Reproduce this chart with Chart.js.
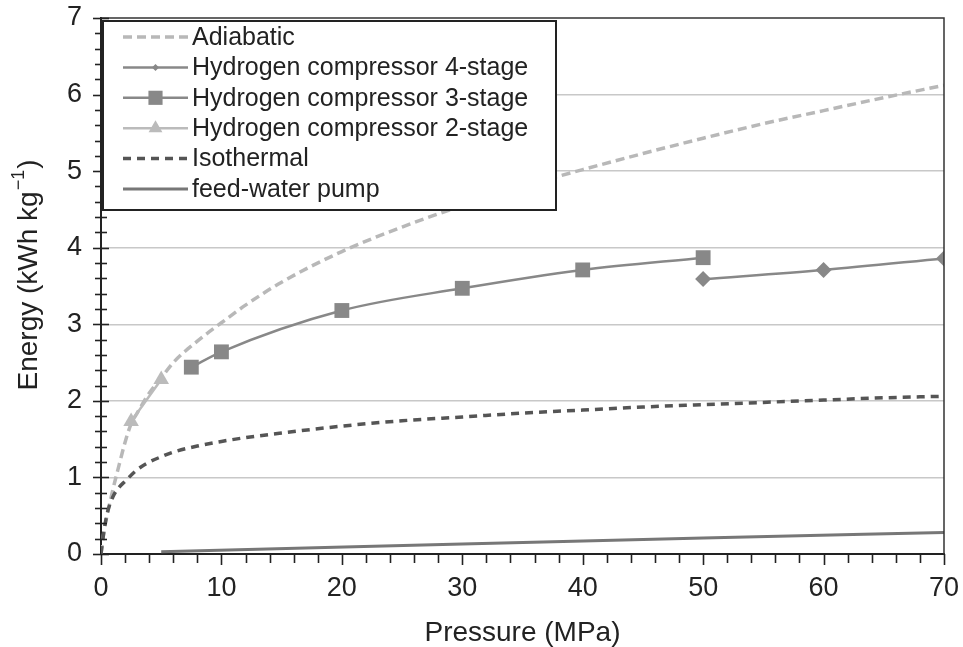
<!DOCTYPE html>
<html><head><meta charset="utf-8">
<script src="https://cdn.jsdelivr.net/npm/chart.js@4/dist/chart.umd.min.js"></script>
<style>html,body{margin:0;padding:0;background:#fff}#wrap{width:963px;height:647px}</style>
</head><body><div id="wrap"><canvas id="c" width="963" height="647"></canvas></div>
<script>
const seriesNames = ['Adiabatic','Hydrogen compressor 4-stage','Hydrogen compressor 3-stage','Hydrogen compressor 2-stage','Isothermal','feed-water pump'];
const adiabaticP = [0,0.25,0.5,1,1.5,2,2.5,3,4,5,6,8,10,12,15,20,25,30,35,40,45,50,55,60,65,70];
const adiabaticE = [0,0.3,0.5,0.85,1.16,1.46,1.7,1.84,2.1,2.3,2.5,2.78,3.02,3.25,3.55,3.95,4.27,4.55,4.8,5.02,5.23,5.43,5.62,5.79,5.96,6.12];
const stage4P = [50,60,70];
const stage4E = [3.59,3.71,3.86];
const stage3P = [7.5,10,20,30,40,50];
const stage3E = [2.44,2.64,3.18,3.47,3.71,3.87];
const stage2P = [2.5,5];
const stage2E = [1.73,2.28];
const isoP = [0,0.25,0.5,1,1.5,2,3,4,5,6,8,10,12,15,20,25,30,35,40,45,50,55,60,65,70];
const isoE = [0,0.3,0.52,0.75,0.87,0.95,1.1,1.2,1.27,1.33,1.41,1.47,1.52,1.58,1.67,1.74,1.79,1.84,1.88,1.92,1.95,1.98,2.01,2.04,2.06];
const pumpP = [5,30,50,70];
const pumpE = [0.03,0.13,0.21,0.28];
const xTicks = [0,10,20,30,40,50,60,70];
const yTicks = [0,1,2,3,4,5,6,7];
const yTitleMain = 'Energy (kWh kg';
const yTitleSup = '\u22121';
const yTitleEnd = ')';

const FAM = '"Liberation Sans", Arial, Helvetica, sans-serif';
const pts = (xs, ys) => xs.map((x, i) => ({x, y: ys[i]}));

const styles = [
  {c:'#b8b8b8', w:3.5, dash:[9,5], ps:false, lm:0},
  {c:'#888888', w:2.5, dash:[], ps:'rectRot', r:8, lm:3.5},
  {c:'#888888', w:2.5, dash:[], ps:'rect', r:10.5, lm:10},
  {c:'#bbbbbb', w:2.5, dash:[], ps:'triangle', r:9, lm:8},
  {c:'#555555', w:3.5, dash:[8,6], ps:false, lm:0},
  {c:'#777777', w:3, dash:[], ps:false, lm:0}
];
const dataSets = [pts(adiabaticP, adiabaticE), pts(stage4P, stage4E), pts(stage3P, stage3E), pts(stage2P, stage2E), pts(isoP, isoE), pts(pumpP, pumpE)];

const datasets = dataSets.map((d, i) => {
  const s = styles[i];
  return {
    label: seriesNames[i], data: d,
    borderColor: s.c, backgroundColor: s.c, borderWidth: s.w, borderDash: s.dash,
    pointStyle: s.ps || 'circle', pointRadius: s.ps ? s.r : 0, pointBorderWidth: 0,
    pointBackgroundColor: s.c, cubicInterpolationMode: 'monotone', fill: false,
    legendMarker: s.lm, order: 6 - i
  };
});

function drawMarker(ctx, style, x, y, r) {
  ctx.beginPath();
  if (style === 'rect') { const h = r * Math.SQRT1_2; ctx.rect(x - h, y - h, 2 * h, 2 * h); }
  else if (style === 'rectRot') { ctx.moveTo(x, y - r); ctx.lineTo(x + r, y); ctx.lineTo(x, y + r); ctx.lineTo(x - r, y); ctx.closePath(); }
  else if (style === 'triangle') { ctx.moveTo(x, y - r); ctx.lineTo(x + r * 0.866, y + r * 0.5); ctx.lineTo(x - r * 0.866, y + r * 0.5); ctx.closePath(); }
  ctx.fill();
}

const framePlugin = {
  id: 'frame',
  afterDatasetsDraw(chart) {
    const ctx = chart.ctx, a = chart.chartArea;
    const xs = chart.scales.x, ys = chart.scales.y;
    ctx.save();
    ctx.strokeStyle = '#333'; ctx.lineWidth = 1.5;
    ctx.beginPath(); ctx.moveTo(a.left, a.top); ctx.lineTo(a.right, a.top); ctx.lineTo(a.right, a.bottom); ctx.stroke();
    ctx.strokeStyle = '#222'; ctx.lineWidth = 1.6;
    for (let k = 0; k <= 35; k++) {
      const v = k * 0.2; const py = Math.round(ys.getPixelForValue(v)) + 0.5;
      const major = k % 5 === 0; const L = major ? 8 : 6;
      ctx.beginPath(); ctx.moveTo(a.left - L, py); ctx.lineTo(a.left + L, py); ctx.stroke();
    }
    for (let k = 0; k <= 35; k++) {
      const v = k * 2; const px = Math.round(xs.getPixelForValue(v)) + 0.5;
      const major = k % 5 === 0; const L = major ? 11 : 9;
      ctx.beginPath(); ctx.moveTo(px, a.bottom); ctx.lineTo(px, a.bottom + L); ctx.stroke();
    }
    // legend box
    const bx = a.left + 2, by = a.top + 3, bw = 453, bh = 189;
    ctx.fillStyle = '#fff'; ctx.fillRect(bx, by, bw, bh);
    ctx.strokeStyle = '#222'; ctx.lineWidth = 2; ctx.strokeRect(bx, by, bw, bh);
    chart.data.datasets.forEach((ds, i) => {
      const y = by + 16 + i * 30.4;
      const x0 = bx + 20, x1 = bx + 85;
      ctx.beginPath(); ctx.setLineDash(ds.borderDash || []);
      ctx.lineWidth = ds.borderWidth; ctx.strokeStyle = ds.borderColor;
      ctx.moveTo(x0, y); ctx.lineTo(x1, y); ctx.stroke(); ctx.setLineDash([]);
      if (ds.legendMarker) { ctx.fillStyle = ds.borderColor; drawMarker(ctx, ds.pointStyle, (x0 + x1) / 2, y, ds.legendMarker); }
      ctx.fillStyle = '#222'; ctx.font = '25px ' + FAM; ctx.textBaseline = 'middle'; ctx.textAlign = 'left';
      ctx.fillText(ds.label, bx + 89, y + 1);
    });
    // y-axis title with superscript
    const cy = (a.top + a.bottom) / 2 - 11;
    ctx.translate(27, cy); ctx.rotate(-Math.PI / 2);
    const fMain = '28px ' + FAM, fSup = '18px ' + FAM;
    ctx.font = fMain; const w1 = ctx.measureText(yTitleMain).width, w3 = ctx.measureText(yTitleEnd).width;
    ctx.font = fSup; const w2 = ctx.measureText(yTitleSup).width;
    let x = -(w1 + w2 + w3 + 2) / 2;
    ctx.fillStyle = '#222'; ctx.textAlign = 'left'; ctx.textBaseline = 'middle';
    ctx.font = fMain; ctx.fillText(yTitleMain, x, 2); x += w1 + 1;
    ctx.font = fSup; ctx.fillText(yTitleSup, x, -8); x += w2 + 1;
    ctx.font = fMain; ctx.fillText(yTitleEnd, x, 2);
    ctx.restore();
  }
};

new Chart(document.getElementById('c'), {
  type: 'line',
  data: { datasets },
  options: {
    responsive: false, animation: false,
    layout: { padding: { left: 0, right: 19, top: 18, bottom: 0 } },
    plugins: { legend: { display: false }, tooltip: { enabled: false } },
    scales: {
      x: {
        type: 'linear', min: 0, max: 70,
        afterBuildTicks(s) { s.ticks = xTicks.map(v => ({value: v})); },
        ticks: { font: { size: 27, family: FAM }, color: '#222', padding: 18, maxRotation: 0 },
        grid: { display: false, drawTicks: false },
        border: { display: true, color: '#222', width: 2 },
        title: { display: true, text: 'Pressure (MPa)', font: { size: 28, family: FAM, lineHeight: 1 }, color: '#222', padding: { top: 0, bottom: 0 } },
        afterFit(s) { s.height = 93; s.paddingLeft = 0; s.paddingRight = 0; }
      },
      y: {
        type: 'linear', min: 0, max: 7,
        afterBuildTicks(s) { s.ticks = yTicks.map(v => ({value: v})); },
        ticks: { font: { size: 27, family: FAM }, color: '#222', padding: 19 },
        grid: { color: c => (c.tick && c.tick.value > 0 && c.tick.value < 7) ? '#c8c8c8' : 'rgba(0,0,0,0)', lineWidth: 1.5, drawTicks: false },
        border: { display: true, color: '#222', width: 2 },
        title: { display: false },
        afterFit(s) { s.width = 101; s.paddingTop = 0; s.paddingBottom = 0; }
      }
    }
  },
  plugins: [framePlugin]
});
</script></body></html>
